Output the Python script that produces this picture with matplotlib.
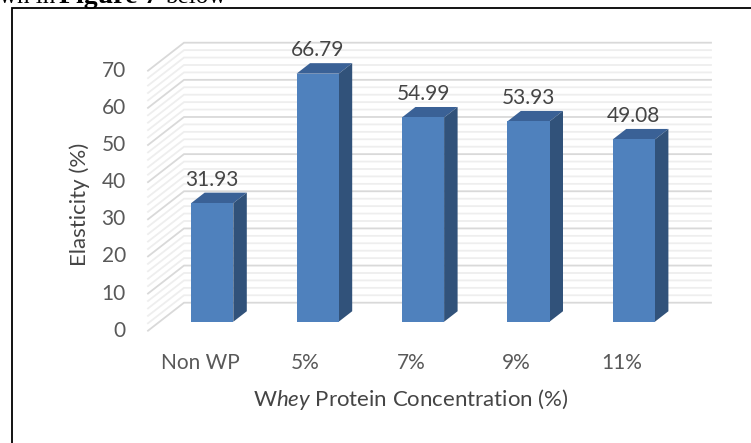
import matplotlib
matplotlib.use("Agg")
import matplotlib.pyplot as plt
from matplotlib.lines import Line2D

categories = ["Non WP", "5%", "7%", "9%", "11%"]
elasticity = [31.93, 66.79, 54.99, 53.93, 49.08]
y_ticks = [0, 10, 20, 30, 40, 50, 60, 70]
minor_step = 2

W, H = 751, 443
plt.rcParams["font.family"] = ["Lato", "DejaVu Sans"]
plt.rcParams["mathtext.fontset"] = "custom"
plt.rcParams["mathtext.it"] = "Lato:italic"
plt.rcParams["mathtext.rm"] = "Lato"
TXT = "#595959"
DARK = "#454545"
fig = plt.figure(figsize=(W / 100, H / 100), dpi=100, facecolor="white")
L, R, T, B = 148, 675, 70.7, 330.7
ax = fig.add_axes([L / W, 1 - B / H, (R - L) / W, (B - T) / H])
ax.set_xlim(-0.5, 4.5)
ax.set_ylim(0, 70)
ax.axis("off")

DX = 36 / ((R - L) / 5)
DY = 28 / ((B - T) / 70)


def sh(x, y, d):
    return x + d * DX, y + d * DY


def grid(v, c, lw):
    x0, y0 = sh(-0.5, v, 0)
    x1, y1 = sh(-0.5, v, 1)
    x2, y2 = sh(4.5, v, 1)
    ax.plot([x0, x1, x2], [y0, y1, y2], color=c, lw=lw, clip_on=False,
            solid_joinstyle="miter", zorder=1)


for v in range(0, 71, minor_step):
    if v % 10:
        grid(v, "#eeeeee", 1.3)
for v in y_ticks:
    grid(v, "#d9d9d9", 1.3)

BW = 0.4
D0, D1 = 0.32, 0.695
FRONT, SIDE, TOP = "#4f81bd", "#31527a", "#3a6196"
for i, v in enumerate(elasticity):
    xl, xr = i - BW / 2, i + BW / 2
    a = sh(xl, 0, D0); b = sh(xr, 0, D0); c = sh(xr, v, D0); d = sh(xl, v, D0)
    e = sh(xr, 0, D1); f = sh(xr, v, D1); g = sh(xl, v, D1)
    ax.fill(*zip(c, f, g, d), color=TOP, lw=0, clip_on=False, zorder=3)
    ax.fill(*zip(b, e, f, c), color=SIDE, lw=0, clip_on=False, zorder=3)
    ax.fill(*zip(a, b, c, d), color=FRONT, lw=0, clip_on=False, zorder=4)
    lx, ly = sh(i, v, D0)
    ax.annotate(f"{v:.2f}", (lx, ly), xytext=(0, 17), textcoords="offset points",
                ha="center", va="center", fontsize=15, color=DARK, zorder=5,
                annotation_clip=False)

for v in y_ticks:
    ax.annotate(str(v), (-0.5, v), xytext=(-16, 0), textcoords="offset points",
                ha="right", va="center", fontsize=15, color=TXT, annotation_clip=False)
for i, c in enumerate(categories):
    ax.annotate(c, (i, 0), xytext=(-0.5, -23), textcoords="offset points",
                ha="center", va="center", fontsize=15, color=TXT, annotation_clip=False)

fig.text(80 / W, 1 - 204 / H, "Elasticity (%)", rotation=90, ha="center", va="center",
         fontsize=16, color=DARK)
fig.text(411 / W, 1 - 399.5 / H, r"W$\mathit{hey}$ Protein Concentration (%)", ha="center", va="center",
         fontsize=16, color=DARK)

# clipped line of body text above the frame
base = 1 - 3 / H
fig.text(-1 / W, base, "wn in", family="Liberation Serif", fontsize=18, color="black", va="baseline")
fig.text(59 / W, base, "Figure 7", family="Liberation Serif", weight="bold", fontsize=20, va="baseline")
fig.text(165 / W, base, "below", family="Liberation Serif", fontsize=18, va="baseline")
# enclosing frame of the source page
fig.add_artist(Line2D([11.5 / W, 11.5 / W, 1], [0, 1 - 7.5 / H, 1 - 7.5 / H], color="black",
                      lw=1.3, solid_joinstyle="miter"))

fig.savefig("out.png", dpi=100)
